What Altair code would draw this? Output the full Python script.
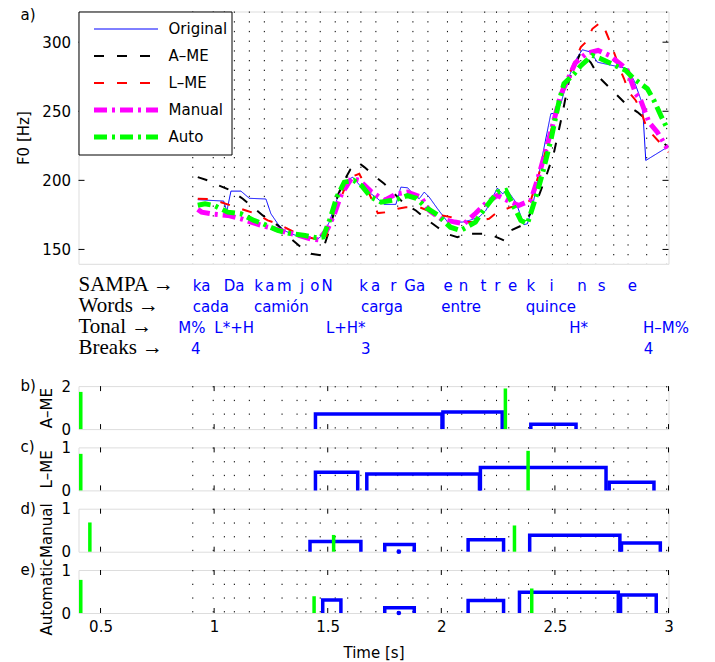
import altair as alt
import pandas as pd

# ---------------- data ----------------
X_DOMAIN = [0.403, 3.0]
F0_DOMAIN = [139.6, 322.2]
F0_TICKS = [150, 200, 250, 300]
TIME_TICKS = [0.5, 1.0, 1.5, 2.0, 2.5, 3.0]

SERIES = ["Original", "A–ME", "L–ME", "Manual", "Auto"]
COLORS = ["#0000ff", "#000000", "#ff0000", "#ff00ff", "#00ff00"]
WIDTHS = [1, 2, 2, 5, 5]
DASHES = [[1, 0], [10, 13], [10, 13], [13, 5, 3, 5], [13, 5, 3, 5]]

orig_t = [0.928, 1.042, 1.056, 1.074, 1.118, 1.155, 1.228, 1.250, 1.280, 1.309, 1.338, 1.390,
          1.434, 1.456, 1.478, 1.507, 1.544, 1.573, 1.610, 1.646, 1.690, 1.712, 1.749, 1.800,
          1.822, 1.852, 1.881, 1.903, 1.925, 1.947, 1.983, 2.028, 2.093, 2.123, 2.166, 2.196,
          2.247, 2.269, 2.291, 2.328, 2.364, 2.379, 2.401, 2.438, 2.482, 2.504, 2.526, 2.555,
          2.599, 2.621, 2.658, 2.687, 2.819, 2.848, 2.885, 2.900, 2.995]
orig_f0 = [186.0, 185.0, 177.7, 192.2, 192.2, 187.0, 186.5, 175.8, 168.6, 163.7, 161.4, 158.5,
           158.0, 157.5, 160.5, 169.8, 187.8, 199.0, 202.3, 195.5, 190.3, 187.8, 182.6, 182.6,
           195.1, 194.6, 189.1, 186.7, 191.5, 187.8, 179.5, 169.8, 169.8, 171.0, 173.4, 178.2,
           194.4, 190.3, 192.7, 184.2, 167.9, 168.6, 180.6, 212.0, 248.2, 248.6, 255.4, 272.3,
           289.2, 294.5, 292.8, 285.5, 280.8, 272.3, 255.4, 214.4, 224.0]

ame_t = [0.928, 0.972, 1.021, 1.074, 1.126, 1.162, 1.214, 1.280, 1.338, 1.382, 1.426, 1.470,
         1.485, 1.514, 1.544, 1.573, 1.600, 1.632, 1.661, 1.712, 1.749, 1.793, 1.837, 1.888,
         1.932, 1.983, 2.020, 2.071, 2.115, 2.181, 2.225, 2.277, 2.306, 2.364, 2.416, 2.460,
         2.495, 2.533, 2.562, 2.614, 2.658, 2.694, 2.738, 2.775, 2.819, 2.863, 2.907, 2.944,
         2.973, 3.000]
ame_f0 = [202.3, 199.9, 196.3, 192.7, 186.7, 181.8, 174.6, 167.4, 157.7, 151.7, 146.9, 145.7,
          152.9, 167.4, 189.1, 200.0, 208.0, 213.2, 209.6, 202.3, 197.5, 190.3, 183.1, 178.2,
          172.2, 166.1, 161.4, 158.9, 161.4, 161.4, 160.1, 156.5, 163.7, 168.1, 183.1, 202.3,
          219.5, 248.2, 272.3, 292.8, 285.3, 274.7, 267.4, 261.4, 254.2, 249.4, 243.3, 236.1,
          227.6, 224.0]

lme_t = [0.928, 0.979, 1.030, 1.074, 1.140, 1.184, 1.236, 1.280, 1.338, 1.382, 1.441, 1.492,
         1.514, 1.544, 1.571, 1.602, 1.639, 1.683, 1.720, 1.764, 1.808, 1.844, 1.903, 1.940,
         2.005, 2.042, 2.108, 2.144, 2.210, 2.247, 2.306, 2.342, 2.394, 2.430, 2.452, 2.495,
         2.540, 2.570, 2.614, 2.636, 2.665, 2.702, 2.724, 2.746, 2.768, 2.782, 2.804, 2.826,
         2.856, 2.878, 2.900, 2.929, 2.973, 3.001]
lme_f0 = [186.7, 186.4, 184.2, 181.8, 178.2, 175.8, 171.0, 168.6, 163.7, 160.1, 157.7, 157.7,
          173.4, 180.6, 192.7, 202.3, 204.8, 190.3, 176.3, 177.0, 179.5, 180.6, 180.6, 178.2,
          174.6, 173.4, 169.8, 169.8, 172.2, 177.0, 180.6, 181.8, 185.5, 204.8, 216.8, 243.3,
          272.3, 279.5, 296.4, 300.0, 309.7, 314.5, 307.7, 298.8, 289.1, 281.9, 273.7, 263.8,
          257.8, 250.6, 239.7, 233.2, 225.3, 220.2]

man_t = [0.928, 0.945, 1.000, 1.060, 1.118, 1.180, 1.236, 1.275, 1.320, 1.365, 1.426, 1.460,
         1.500, 1.530, 1.560, 1.605, 1.640, 1.690, 1.749, 1.800, 1.850, 1.910, 1.947, 2.000,
         2.060, 2.100, 2.150, 2.200, 2.247, 2.291, 2.340, 2.394, 2.430, 2.482, 2.526, 2.555,
         2.590, 2.640, 2.690, 2.740, 2.797, 2.819, 2.856, 2.878, 2.914, 2.951, 2.995]
man_f0 = [179.0, 177.0, 175.5, 174.6, 172.2, 168.8, 166.1, 164.5, 162.3, 160.5, 157.5, 157.0,
          165.0, 176.0, 190.0, 201.5, 200.0, 192.0, 185.5, 190.0, 191.5, 188.0, 178.2, 172.0,
          169.8, 168.6, 176.0, 184.0, 189.1, 185.5, 181.8, 185.5, 204.0, 235.0, 262.0, 272.3,
          285.0, 292.0, 294.0, 290.4, 283.0, 279.5, 262.7, 257.8, 242.1, 234.9, 223.0]

auto_t = [0.928, 0.960, 1.000, 1.060, 1.118, 1.175, 1.215, 1.280, 1.338, 1.400, 1.450, 1.480,
          1.510, 1.540, 1.573, 1.615, 1.650, 1.690, 1.735, 1.800, 1.850, 1.890, 1.935, 1.983,
          2.040, 2.085, 2.150, 2.175, 2.247, 2.284, 2.328, 2.350, 2.379, 2.416, 2.445, 2.482,
          2.519, 2.540, 2.584, 2.614, 2.665, 2.702, 2.812, 2.848, 2.907, 2.936, 2.966, 2.995]
auto_f0 = [182.0, 183.0, 181.8, 177.0, 175.8, 171.0, 168.6, 163.7, 161.4, 160.1, 158.5, 159.0,
           172.0, 188.0, 198.7, 199.9, 196.0, 187.8, 184.2, 186.0, 189.0, 187.0, 180.0, 175.0,
           166.1, 163.7, 169.8, 176.0, 191.5, 192.7, 178.2, 171.0, 168.6, 187.8, 204.8, 229.0,
           257.8, 270.0, 277.0, 283.0, 290.4, 288.0, 279.5, 273.5, 266.3, 257.8, 247.0, 237.3]

# segment boundaries (dotted lines)
boundary_t = [0.906, 0.996, 1.045, 1.089, 1.155, 1.221, 1.299, 1.365, 1.404, 1.467, 1.533,
              1.588, 1.646, 1.712, 1.808, 1.875, 1.941, 2.027, 2.090, 2.191, 2.243, 2.297,
              2.384, 2.489, 2.555, 2.614, 2.680, 2.759, 2.822, 2.904, 2.992]

# annotation rows
row_heads = ["SAMPA →", "Words →", "Tonal →", "Breaks →"]
sampa_labels = ["ka", "Da", "k", "a", "m", "j", "o", "N", "k", "a", "r", "Ga", "e", "n", "t",
                "r", "e", "k", "i", "n", "s", "e"]
sampa_t = [0.906, 1.042, 1.177, 1.225, 1.277, 1.378, 1.423, 1.473, 1.639, 1.690, 1.775, 1.837,
           2.010, 2.077, 2.172, 2.233, 2.294, 2.375, 2.476, 2.598, 2.689, 2.821]
word_labels = ["cada", "camión", "carga", "entre", "quince"]
word_t = [0.906, 1.175, 1.646, 2.000, 2.372]
tonal_labels = ["M%", "L*+H", "L+H*", "H*", "H–M%"]
tonal_t = [0.842, 1.001, 1.492, 2.563, 2.888]
break_labels = ["4", "3", "4"]
break_t = [0.898, 1.646, 2.891]

# bottom panels
PANEL_LABELS = ["a)", "b)", "c)", "d)", "e)"]
PANEL_TITLES = ["A–ME", "L–ME", "Manual", "Automatic"]
PANEL_TITLE_SHIFT = [0, 0, 0, 5]
PANEL_YMAX = [2, 1, 1, 1]
PANEL_YTICKS = [[0, 2], [0, 1], [0, 1], [0, 1]]

box_start = [[1.446, 2.007, 2.394],
             [1.446, 1.672, 2.172, 2.739],
             [1.422, 1.751, 2.118, 2.389, 2.793],
             [1.478, 1.751, 2.118, 2.344, 2.789]]
box_end = [[2.003, 2.268, 2.593],
           [1.632, 2.168, 2.725, 2.936],
           [1.646, 1.881, 2.274, 2.786, 2.964],
           [1.558, 1.881, 2.274, 2.779, 2.946]]
box_height = [[0.70, 0.80, 0.23],
              [0.42, 0.38, 0.53, 0.19],
              [0.24, 0.17, 0.28, 0.385, 0.20],
              [0.305, 0.12, 0.29, 0.48, 0.42]]
mark_t = [[0.413, 2.282], [0.413, 2.382], [0.453, 1.526, 2.322], [0.413, 1.440, 2.398]]
mark_h = [[1.73, 1.89], [0.85, 0.92], [0.68, 0.39, 0.61], [0.77, 0.39, 0.57]]
dot_t = [[], [], [1.813], [1.813]]

# ---------------- style / layout ----------------
SANS = "DejaVu Sans"
SERIF = "Liberation Serif"
FS = 15
W = 590
H_TOP = 252.3
H_TXT = 84.1
H_BOT = 43
SPACING = 18.3

xs = alt.Scale(domain=X_DOMAIN, nice=False, zero=False)

# ---------------- top panel ----------------
f0_df = pd.concat([
    pd.DataFrame({"t": t, "f0": f, "series": s})
    for s, t, f in zip(SERIES, [orig_t, ame_t, lme_t, man_t, auto_t],
                       [orig_f0, ame_f0, lme_f0, man_f0, auto_f0])
], ignore_index=True)

legend = alt.Legend(title=None, orient="none", legendX=0, legendY=0, fillColor="white",
                    strokeColor="black", padding=4, symbolType="stroke", symbolSize=4096,
                    clipHeight=27, rowPadding=0, labelFont=SANS, labelFontSize=FS,
                    labelColor="black", symbolOffset=9, labelOffset=8)
color_enc = alt.Color("series:N", scale=alt.Scale(domain=SERIES, range=COLORS), legend=legend)
dash_enc = alt.StrokeDash("series:N", scale=alt.Scale(type="ordinal", domain=SERIES, range=DASHES),
                          legend=legend)
width_enc = alt.StrokeWidth("series:N", scale=alt.Scale(type="ordinal", domain=SERIES, range=WIDTHS),
                            legend=legend)

y_top_axis = alt.Axis(values=F0_TICKS, title="F0 [Hz]", grid=False, ticks=False, domain=False,
                      labelFont=SANS, labelFontSize=FS, labelColor="black", labelPadding=8,
                      titleFont=SANS, titleFontSize=FS, titleFontWeight="normal",
                      titleColor="black", titleX=-54.7, titleBaseline="middle")
y_top_scale = alt.Scale(domain=F0_DOMAIN, nice=False, zero=False)


def ytop(field):
    return alt.Y(f"{field}:Q", scale=y_top_scale, axis=y_top_axis)


x_top = alt.X("t:Q", scale=xs, axis=None)
bound_df = pd.DataFrame({"t": boundary_t})
ytick_df = pd.DataFrame({"v": F0_TICKS})

dots_top = alt.Chart(bound_df).mark_rule(color="black", strokeWidth=1, strokeDash=[1.3, 8.4]).encode(x=x_top)
ytick_l = alt.Chart(ytick_df).mark_rule(color="black", strokeWidth=1).encode(
    y=ytop("v"), x=alt.value(0), x2=alt.value(6))
ytick_r = alt.Chart(ytick_df).mark_rule(color="black", strokeWidth=1).encode(
    y=ytop("v"), x=alt.value(W - 6), x2=alt.value(W))

line_layers = []
for s in SERIES:
    line_layers.append(
        alt.Chart(f0_df).transform_filter(alt.datum.series == s).mark_line(clip=True).encode(
            x=x_top, y=ytop("f0"), color=color_enc, strokeDash=dash_enc, strokeWidth=width_enc)
    )

label_a = alt.Chart(pd.DataFrame({"lab": [PANEL_LABELS[0]]})).mark_text(
    align="left", baseline="middle", font=SANS, fontSize=FS, color="black").encode(
    x=alt.value(-58), y=alt.value(3), text="lab:N")

top = alt.layer(dots_top, ytick_l, ytick_r, *line_layers, label_a).properties(width=W, height=H_TOP)

# ---------------- annotation rows ----------------
head_df = pd.DataFrame({"label": row_heads, "t": [X_DOMAIN[0]] * 4, "row": [0, 1, 2, 3]})
ann_df = pd.concat([
    pd.DataFrame({"label": sampa_labels, "t": sampa_t, "row": 0}),
    pd.DataFrame({"label": word_labels, "t": word_t, "row": 1}),
    pd.DataFrame({"label": tonal_labels, "t": tonal_t, "row": 2}),
    pd.DataFrame({"label": break_labels, "t": break_t, "row": 3}),
], ignore_index=True)
row_scale = alt.Scale(domain=[-0.376, 3.629], reverse=True, nice=False, zero=False)

heads = alt.Chart(head_df).mark_text(align="left", baseline="alphabetic", font=SERIF, fontSize=21,
                                     color="black").encode(
    x=alt.X("t:Q", scale=xs, axis=None), y=alt.Y("row:Q", scale=row_scale, axis=None), text="label:N")
blues = alt.Chart(ann_df).mark_text(align="left", baseline="alphabetic", font=SANS, fontSize=FS,
                                    color="#0000ff").encode(
    x=alt.X("t:Q", scale=xs, axis=None), y=alt.Y("row:Q", scale=row_scale, axis=None), text="label:N")
txt = alt.layer(heads, blues).properties(width=W, height=H_TXT,
                                          view=alt.ViewBackground(stroke="transparent"))


# ---------------- bottom panels ----------------
def panel(i, show_x):
    ys = alt.Scale(domain=[0, PANEL_YMAX[i]], nice=False, zero=True)
    yaxis = alt.Axis(values=PANEL_YTICKS[i], format="~g", title=PANEL_TITLES[i], grid=False,
                     ticks=False, domain=False, labelFont=SANS, labelFontSize=FS,
                     labelColor="black", labelPadding=8, titleFont=SANS, titleFontSize=FS,
                     titleFontWeight="normal", titleColor="black", titleX=-31.7,
                     titleY=H_BOT / 2 + PANEL_TITLE_SHIFT[i], titleBaseline="middle")
    if show_x:
        xaxis = alt.Axis(values=TIME_TICKS, format="~g", title="Time [s]", grid=False, ticks=False,
                         domain=False, labelFlush=False, labelFont=SANS, labelFontSize=FS,
                         labelColor="black", labelPadding=6, titleFont=SANS, titleFontSize=FS,
                         titleFontWeight="normal", titleColor="black", titleY=39,
                         titleBaseline="middle")
        X = alt.X("t:Q", scale=xs, axis=xaxis)
    else:
        X = alt.X("t:Q", scale=xs, axis=None)

    def Yf(f):
        return alt.Y(f"{f}:Q", scale=ys, axis=yaxis)

    rows = []
    for k, (s, e, h) in enumerate(zip(box_start[i], box_end[i], box_height[i])):
        rows += [{"t": s, "v": 0, "box": k, "o": 0}, {"t": s, "v": h, "box": k, "o": 1},
                 {"t": e, "v": h, "box": k, "o": 2}, {"t": e, "v": 0, "box": k, "o": 3}]
    box_df = pd.DataFrame(rows)
    mk_df = pd.DataFrame({"t": mark_t[i], "h": mark_h[i], "z": 0.0})
    tick_df = pd.DataFrame({"t": TIME_TICKS})

    layers = [
        alt.Chart(bound_df).mark_rule(color="black", strokeWidth=1, strokeDash=[1.3, 12.4]).encode(x=X),
        alt.Chart(tick_df).mark_rule(color="black", strokeWidth=1).encode(
            x=X, y=alt.value(H_BOT), y2=alt.value(H_BOT - 5)),
        alt.Chart(tick_df).mark_rule(color="black", strokeWidth=1).encode(
            x=X, y=alt.value(0), y2=alt.value(5)),
        alt.Chart(box_df).mark_line(color="#0000ff", strokeWidth=3.5).encode(
            x=X, y=Yf("v"), detail="box:N", order="o:Q"),
        alt.Chart(mk_df).mark_rule(color="#00ff00", strokeWidth=3.5).encode(
            x=X, y=Yf("h"), y2=alt.Y2("z:Q")),
    ]
    if dot_t[i]:
        layers.append(alt.Chart(pd.DataFrame({"t": dot_t[i], "z": 0.0})).mark_circle(
            color="#0000ff", size=22, opacity=1).encode(x=X, y=Yf("z")))
    layers.append(alt.Chart(pd.DataFrame({"lab": [PANEL_LABELS[i + 1]]})).mark_text(
        align="left", baseline="middle", font=SANS, fontSize=FS, color="black").encode(
        x=alt.value(-58), y=alt.value(0), text="lab:N"))
    return alt.layer(*layers).properties(width=W, height=H_BOT)


panels = [panel(i, i == 3) for i in range(4)]

chart = alt.vconcat(top, txt, *panels, spacing=SPACING, bounds="flush").configure_view(
    stroke="black", strokeWidth=1.3
).configure(padding={"left": 15.5, "top": 6.5, "right": 5, "bottom": 5}, background="white")

chart.save("out.html", embed_options={"renderer": "svg", "actions": False})
